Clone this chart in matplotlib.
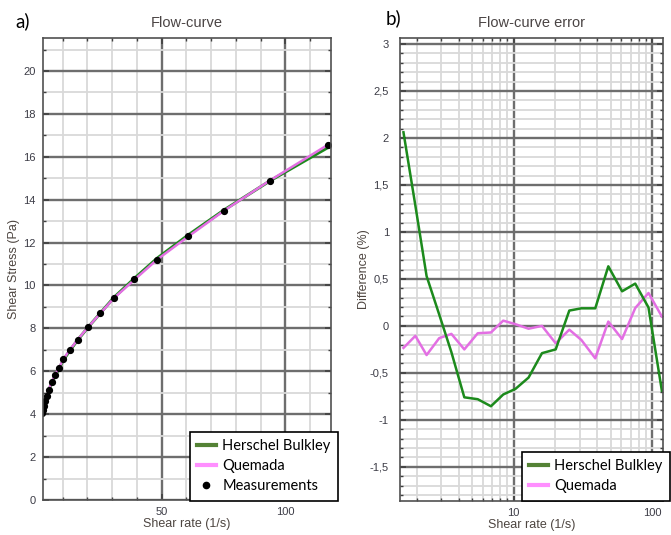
import matplotlib
matplotlib.use('Agg')
import matplotlib.pyplot as plt
from matplotlib.lines import Line2D
from matplotlib.ticker import MultipleLocator, LogLocator, FuncFormatter, NullFormatter

# shear rate steps of the ramp (1/s)
shear_rate = [1.6, 1.95, 2.35, 2.9, 3.55, 4.4, 5.5, 6.85, 8.4, 10.3, 12.8, 16.0,
              20.1, 25.2, 30.8, 38.8, 48.2, 60.6, 75.4, 94.0, 117.4]

# measured shear stress (Pa)
stress_meas = [4.05, 4.20, 4.38, 4.60, 4.85, 5.15, 5.49, 5.81, 6.14, 6.57, 6.99, 7.47,
               8.05, 8.70, 9.43, 10.29, 11.20, 12.29, 13.47, 14.86, 16.55]

# fitted model stress (Pa)
stress_hb = [4.13, 4.25, 4.40, 4.60, 4.84, 5.11, 5.45, 5.76, 6.10, 6.53, 6.95, 7.45,
             8.03, 8.71, 9.45, 10.31, 11.27, 12.34, 13.53, 14.89, 16.44]
stress_quemada = [4.04, 4.20, 4.37, 4.59, 4.85, 5.14, 5.49, 5.81, 6.14, 6.57, 6.99, 7.47,
                  8.04, 8.70, 9.42, 10.25, 11.21, 12.27, 13.50, 14.91, 16.57]

# relative difference model vs measurement (%)
diff_hb = [2.06, 1.28, 0.53, 0.12, -0.28, -0.76, -0.78, -0.855, -0.73, -0.67, -0.55, -0.29,
           -0.25, 0.163, 0.187, 0.187, 0.634, 0.368, 0.45, 0.196, -0.69]
diff_quemada = [-0.234, -0.106, -0.31, -0.13, -0.085, -0.25, -0.078, -0.07, 0.056, 0.018, -0.03, 0.0,
                -0.185, -0.04, -0.15, -0.345, 0.046, -0.14, 0.19, 0.35, 0.10]

GREEN = '#1c8a1c'
PINK = '#e36fe3'
LEG_GREEN = '#548235'
LEG_PINK = '#ff8fff'
MAJ = '#6e6e6e'
MIN = '#d9d9d9'
TXT = '#3c3c46'

plt.rcParams['font.family'] = ['Liberation Sans', 'DejaVu Sans']

fig = plt.figure(figsize=(6.71, 5.35), dpi=100)
ax1 = fig.add_axes([0.0636, 0.0654, 0.4297, 0.8641])
ax2 = fig.add_axes([0.5961, 0.0641, 0.3915, 0.8643])


def style_axes(ax):
    ax.set_axisbelow(True)
    ax.grid(which='minor', color=MIN, lw=1.3)
    ax.grid(which='major', color=MAJ, lw=1.7)
    ax.tick_params(which='both', direction='in', top=True, right=True,
                   colors='#404040', labelcolor=TXT, labelsize=8)
    ax.tick_params(which='major', length=4, width=1.2)
    ax.tick_params(which='minor', length=2.5, width=1)
    for s in ax.spines.values():
        s.set_color('#505050')
        s.set_linewidth(1.2)


# flow curve
ax1.plot(shear_rate, stress_hb, color=GREEN, lw=2.2)
ax1.plot(shear_rate, stress_quemada, color=PINK, lw=1.8)
ax1.plot(shear_rate, stress_meas, 'o', color='black', ms=4.2)
ax1.set_xlim(1.9, 118.5)
ax1.set_ylim(0, 21.55)
ax1.xaxis.set_major_locator(MultipleLocator(50))
ax1.xaxis.set_minor_locator(MultipleLocator(10))
ax1.yaxis.set_major_locator(MultipleLocator(2))
ax1.yaxis.set_minor_locator(MultipleLocator(1))
style_axes(ax1)
ax1.tick_params(axis='y', pad=5)
ax1.tick_params(axis='x', pad=5)
ax1.set_title('Flow-curve', fontsize=10.5, color='#4a4444', pad=8)
ax1.set_xlabel('Shear rate (1/s)', fontsize=9, color='#4d4540', labelpad=1)
ax1.set_ylabel('Shear Stress (Pa)', fontsize=9, color='#4d4540', labelpad=2)

# relative error
ax2.plot(shear_rate, diff_quemada, color=PINK, lw=1.8)
ax2.plot(shear_rate, diff_hb, color=GREEN, lw=1.8)
ax2.set_xscale('log')
ax2.set_xlim(1.51, 119)
ax2.set_ylim(-1.86, 3.06)
ax2.xaxis.set_major_locator(LogLocator(base=10))
ax2.xaxis.set_minor_locator(LogLocator(base=10, subs=range(2, 10)))
ax2.xaxis.set_major_formatter(FuncFormatter(lambda v, p: '%g' % v))
ax2.xaxis.set_minor_formatter(NullFormatter())
ax2.yaxis.set_major_locator(MultipleLocator(0.5))
ax2.yaxis.set_minor_locator(MultipleLocator(0.1))
ax2.yaxis.set_major_formatter(FuncFormatter(lambda v, p: ('%g' % round(v, 2)).replace('.', ',')))
style_axes(ax2)
ax2.tick_params(axis='y', pad=8)
ax2.tick_params(axis='x', pad=5)
ax2.set_title('Flow-curve error', fontsize=10.5, color='#4a4444', pad=8)
ax2.set_xlabel('Shear rate (1/s)', fontsize=9, color='#4d4540', labelpad=1)
ax2.set_ylabel('Difference (%)', fontsize=9, color='#4d4540', labelpad=0)

# panel letters
fig.text(15 / 671, 1 - 21 / 535, 'a)', fontsize=13.5, family='Lato', va='center', ha='left')
fig.text(386 / 671, 1 - 18 / 535, 'b)', fontsize=13.5, family='Lato', va='center', ha='left')

leg_kw = dict(frameon=True, fancybox=False, framealpha=1, edgecolor='black',
              prop={'family': 'Lato', 'size': 10.5}, handlelength=1.3,
              handletextpad=0.45, labelspacing=0.42, borderpad=0.5,
              borderaxespad=0, bbox_transform=fig.transFigure, loc='lower right')

h_hb = Line2D([], [], color=LEG_GREEN, lw=3)
h_qm = Line2D([], [], color=LEG_PINK, lw=3)
h_ms = Line2D([], [], ls='none', marker='o', color='black', ms=4.5)

leg1 = fig.legend(handles=[h_hb, h_qm, h_ms],
                  labels=['Herschel Bulkley', 'Quemada', 'Measurements'],
                  bbox_to_anchor=(338 / 671, 1 - 500.7 / 535), **leg_kw)
leg1.get_frame().set_linewidth(1.2)
leg2 = fig.legend(handles=[h_hb, h_qm], labels=['Herschel Bulkley', 'Quemada'],
                  bbox_to_anchor=(670 / 671, 1 - 500.7 / 535), **leg_kw)
leg2.get_frame().set_linewidth(1.2)

fig.savefig('out.png', dpi=100)
